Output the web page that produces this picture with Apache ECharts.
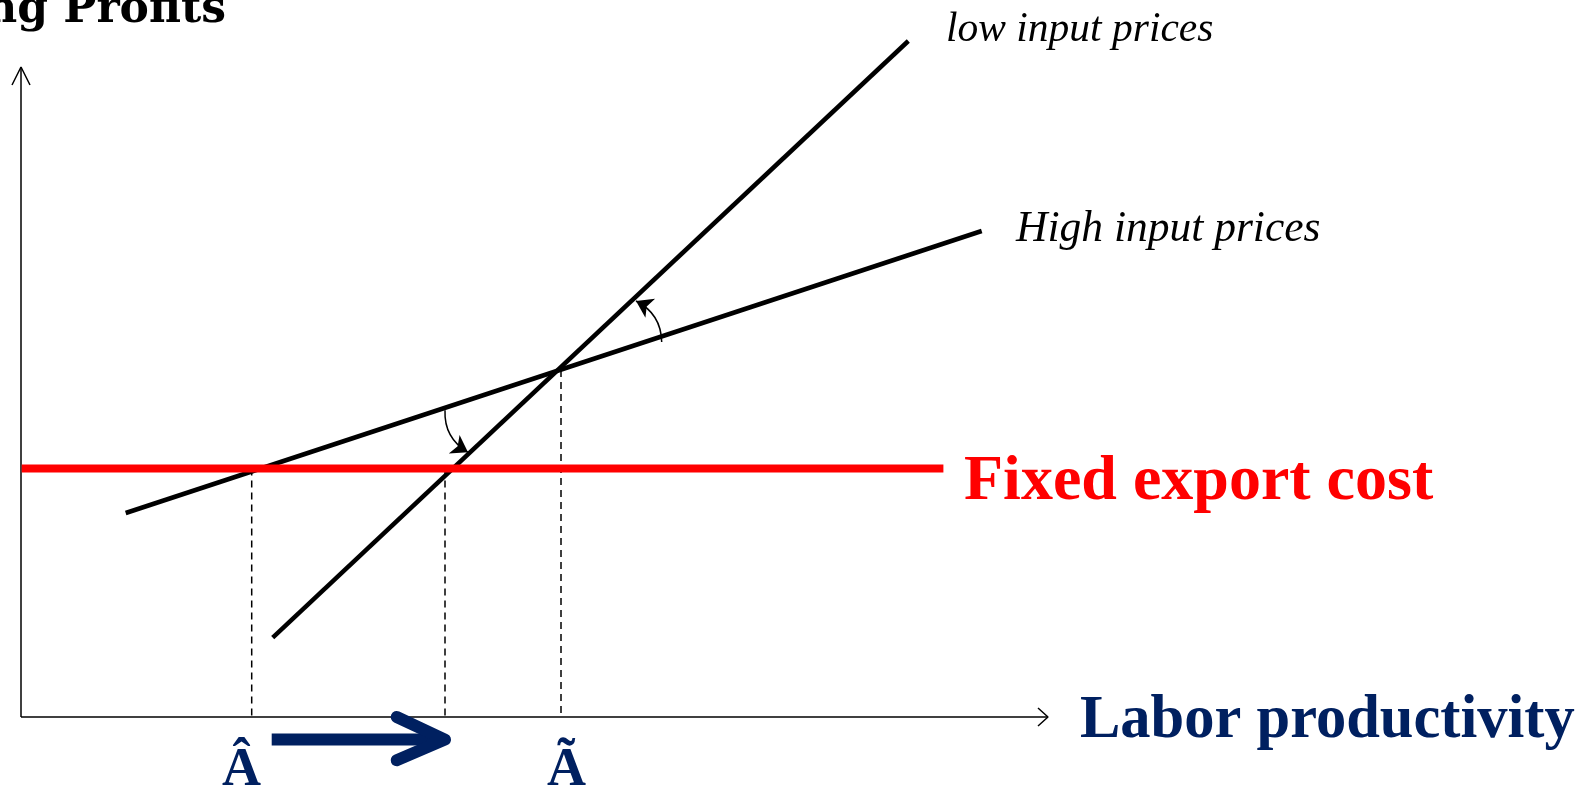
<!DOCTYPE html>
<html><head><meta charset="utf-8">
<script src="https://cdn.jsdelivr.net/npm/echarts@6/dist/echarts.min.js"></script>
<style>html,body{margin:0;padding:0;background:#fff}#c{width:1594px;height:789px}</style>
</head><body><div id="c"></div>
<script>
// Data (schematic units: x = labor productivity, y = exporting profits)
const lowInputPrices  = [[251.7, 79.4], [887.3, 676.0]];
const highInputPrices = [[104.7, 204.0], [960.7, 486.0]];
const fixedExportCost = [[0.7, 248.4], [922.4, 248.4]];
const dropLines = [
  [[230.7, 248.4], [230.7, 0]],
  [[424.0, 248.4], [424.0, 0]],
  [[540.0, 347.0], [540.0, 0]]
];
const rotationArrows = [
  [[424.0, 306.7], [447.0, 264.7]],
  [[640.7, 375.0], [615.0, 416.0]]
];
const shiftShaft = [[250.7, -22.6], [411.0, -22.6]];
const shiftHead = [[375.7, 0.0], [424.0, -22.6], [375.7, -43.3]];
const xAxisLine = [[0, 0], [1027, 0]];
const xAxisHead = [[1017, 9], [1027, 0], [1017, -9]];
const yAxisLine = [[0, 0], [0, 650]];
const yAxisHead = [[-9, 632], [0, 650], [9, 632]];
const labels = {
  title: 'Exporting Profits',
  low: 'low input prices',
  high: 'High input prices',
  fixed: 'Fixed export cost',
  xName: 'Labor productivity',
  aHat: 'Â',
  aTilde: 'Ã'
};

const chart = echarts.init(document.getElementById('c'), null, {renderer: 'canvas'});
const NAVY = '#002060';
function line(data, color, width, extra) {
  return Object.assign({
    type: 'line', data: data, showSymbol: false, symbol: 'none', clip: false,
    silent: true, animation: false,
    lineStyle: {color: color, width: width}
  }, extra || {});
}
const series = [
  line(xAxisLine, '#000', 1.5),
  line(xAxisHead, '#000', 1.5),
  line(yAxisLine, '#000', 1.5),
  line(yAxisHead, '#000', 1.5),
  line(lowInputPrices, '#000', 4.5),
  line(highInputPrices, '#000', 4.5),
  ...dropLines.map(d => line(d, '#000', 1.5, {lineStyle: {color: '#000', width: 1.5, type: [7, 5]}})),
  line(fixedExportCost, '#ff0000', 8),
  line(shiftShaft, NAVY, 12, {lineStyle: {color: NAVY, width: 12, cap: 'butt'}}),
  line(shiftHead, NAVY, 12, {lineStyle: {color: NAVY, width: 12, cap: 'round', join: 'round'}}),
  {
    type: 'lines', coordinateSystem: 'cartesian2d', silent: true, animation: false,
    symbol: ['none', 'arrow'], symbolSize: [14, 16],
    lineStyle: {color: '#000', width: 1.5, curveness: -0.3, opacity: 1},
    data: rotationArrows.map(c => ({coords: c}))
  }
];
chart.setOption({
  animation: false,
  grid: {left: 1, right: 546, top: 67, bottom: 72},
  xAxis: {type: 'value', min: -20, max: 1027, show: false},
  yAxis: {type: 'value', min: 0, max: 650, show: false},
  series: series,
  graphic: [
    {type: 'text', right: 1594 - 226, top: -11, style: {text: labels.title, font: 'bold 44px "DejaVu Serif"', fill: '#000'}},
    {type: 'text', left: 946, top: 10, style: {text: labels.low, font: 'italic 41.5px "Liberation Serif"', fill: '#000'}},
    {type: 'text', left: 1016, top: 208, style: {text: labels.high, font: 'italic 43.5px "Liberation Serif"', fill: '#000'}},
    {type: 'text', left: 964, top: 450, style: {text: labels.fixed, font: 'bold 64px "Liberation Serif"', fill: '#ff0000'}},
    {type: 'text', left: 1080, top: 691, style: {text: labels.xName, font: 'bold 60.5px "Liberation Serif"', fill: NAVY}},
    {type: 'text', left: 242 - 20, top: 744, style: {text: labels.aHat, font: 'bold 54px "Liberation Serif"', fill: NAVY}},
    {type: 'text', left: 567 - 20, top: 744, style: {text: labels.aTilde, font: 'bold 54px "Liberation Serif"', fill: NAVY}}
  ]
});
</script></body></html>
